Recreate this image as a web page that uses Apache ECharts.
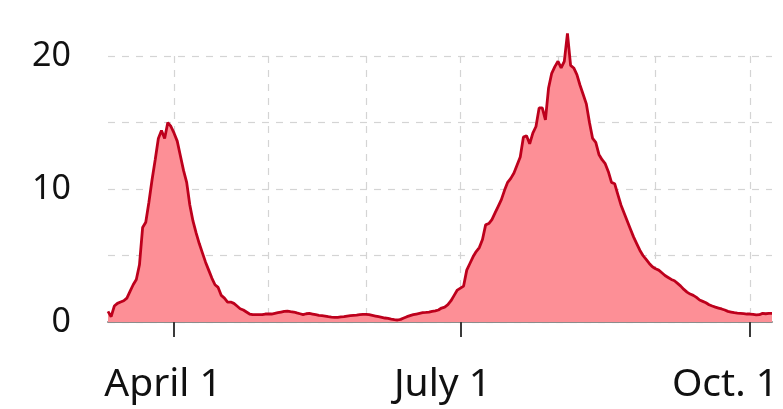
<!DOCTYPE html>
<html>
<head>
<meta charset="utf-8">
<script src="https://cdn.jsdelivr.net/npm/echarts@6/dist/echarts.min.js"></script>
<style>
html,body{margin:0;padding:0;background:#fff;}
#chart{width:783px;height:409px;}
</style>
</head>
<body>
<div id="chart"></div>
<script>
// First day of the series (daily values follow, one per day)
const startDate = '2020-03-11';

// Daily values, Mar 11 – Oct 8, 2020
const values = [
  0.8, 0.4, 1.2, 1.4, 1.5, 1.6, 1.8, 2.3, 2.8, 3.2,
  4.3, 7.1, 7.5, 9.0, 10.7, 12.2, 13.8, 14.4, 13.8, 15.0,
  14.7, 14.2, 13.6, 12.5, 11.4, 10.5, 8.8, 7.6, 6.7, 5.9,
  5.2, 4.5, 3.9, 3.3, 2.8, 2.6, 2.0, 1.8, 1.5, 1.5,
  1.4, 1.2, 1.0, 0.9, 0.75, 0.6, 0.55, 0.55, 0.55, 0.55,
  0.6, 0.6, 0.6, 0.65, 0.7, 0.75, 0.8, 0.82, 0.78, 0.75,
  0.68, 0.62, 0.55, 0.62, 0.65, 0.6, 0.55, 0.5, 0.48, 0.45,
  0.4, 0.37, 0.35, 0.35, 0.38, 0.4, 0.45, 0.48, 0.5, 0.52,
  0.55, 0.57, 0.58, 0.55, 0.5, 0.45, 0.4, 0.35, 0.3, 0.27,
  0.22, 0.18, 0.15, 0.2, 0.3, 0.4, 0.48, 0.55, 0.6, 0.65,
  0.7, 0.72, 0.75, 0.8, 0.83, 0.9, 1.05, 1.12, 1.3, 1.6,
  2.0, 2.4, 2.55, 2.7, 3.9, 4.4, 4.9, 5.3, 5.6, 6.2,
  7.3, 7.4, 7.7, 8.2, 8.7, 9.2, 9.9, 10.5, 10.8, 11.2,
  11.8, 12.4, 13.9, 14.0, 13.4, 14.2, 14.7, 16.1, 16.1, 15.2,
  17.6, 18.7, 19.2, 19.6, 19.1, 19.6, 21.7, 19.3, 19.1, 18.6,
  17.8, 17.1, 16.4, 15.0, 13.8, 13.5, 12.6, 12.2, 11.9, 11.3,
  10.5, 10.4, 9.6, 8.8, 8.2, 7.6, 7.0, 6.4, 5.9, 5.4,
  5.0, 4.7, 4.4, 4.15, 4.0, 3.9, 3.7, 3.5, 3.35, 3.2,
  3.1, 2.9, 2.7, 2.45, 2.25, 2.1, 2.0, 1.85, 1.65, 1.55,
  1.45, 1.3, 1.2, 1.12, 1.05, 0.98, 0.9, 0.8, 0.75, 0.7,
  0.67, 0.65, 0.63, 0.6, 0.6, 0.57, 0.53, 0.55, 0.65, 0.62,
  0.65, 0.65
];

// Labelled x ticks
const tickDates = ['2020-04-01', '2020-07-01', '2020-10-01'];
const tickLabels = ['April 1', 'July 1', 'Oct. 1'];

// Y tick labels shown
const yLabels = [0, 10, 20];

// Build daily category list
function pad(n){return n < 10 ? '0' + n : '' + n;}
const categories = [];
(function(){
  const p = startDate.split('-').map(Number);
  const d = new Date(Date.UTC(p[0], p[1]-1, p[2]));
  for (let i = 0; i < values.length; i++) {
    categories.push(d.getUTCFullYear() + '-' + pad(d.getUTCMonth()+1) + '-' + pad(d.getUTCDate()));
    d.setUTCDate(d.getUTCDate() + 1);
  }
})();

const richKeys = ['a', 'b', 'c'];
const chart = echarts.init(document.getElementById('chart'), null, {renderer: 'canvas'});
chart.setOption({
  animation: false,
  backgroundColor: '#ffffff',
  grid: {left: 108, right: 11, top: 56, bottom: 87, containLabel: false},
  xAxis: {
    type: 'category',
    data: categories,
    boundaryGap: false,
    axisLine: {show: true, lineStyle: {color: '#8c8c8c', width: 2}},
    axisTick: {
      show: true,
      length: 15,
      lineStyle: {color: '#3a3a3a', width: 2},
      interval: function(i, v){ return tickDates.indexOf(v) >= 0; }
    },
    axisLabel: {
      show: true,
      interval: function(i, v){ return tickDates.indexOf(v) >= 0; },
      margin: 43,
      color: '#111',
      fontFamily: 'Noto Sans',
      fontSize: 39,
      formatter: function(v){
        const k = tickDates.indexOf(v);
        return k >= 0 ? '{' + richKeys[k] + '|' + tickLabels[k] + '}' : '';
      },
      rich: {
        a: {fontFamily: 'Noto Sans', fontSize: 39, color: '#111', padding: [0, 22, 0, 0]},
        b: {fontFamily: 'Noto Sans', fontSize: 39, color: '#111', padding: [0, 36, 0, 0]},
        c: {fontFamily: 'Noto Sans', fontSize: 39, color: '#111', padding: [0, 50, 0, 0]}
      }
    },
    splitLine: {
      show: true,
      interval: function(i, v){ return v.slice(8) === '01'; },
      lineStyle: {color: '#d4d4d4', type: [7, 7], width: 1.2}
    }
  },
  yAxis: {
    type: 'value',
    min: 0,
    max: 20,
    interval: 5,
    axisLine: {show: false},
    axisTick: {show: false},
    axisLabel: {
      margin: 37,
      color: '#111',
      fontFamily: 'Noto Sans',
      fontSize: 34,
      formatter: function(v){ return yLabels.indexOf(v) >= 0 ? String(v) : ''; }
    },
    splitLine: {
      show: true,
      lineStyle: {color: '#d4d4d4', type: [7, 7], width: 1.2}
    }
  },
  series: [{
    type: 'line',
    data: values,
    symbol: 'none',
    clip: false,
    lineStyle: {color: '#bd001c', width: 2.8},
    areaStyle: {color: '#fd8f96', opacity: 1},
    z: 3
  }]
});
</script>
</body>
</html>
